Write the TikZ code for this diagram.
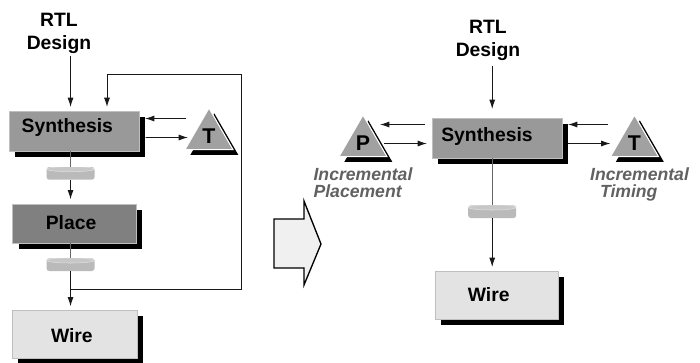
\documentclass[tikz,border=0pt]{standalone}
\usepackage{fontspec}
\setmainfont{Liberation Sans}
\usetikzlibrary{positioning,arrows.meta,calc,shapes.geometric,shadows}

\tikzset{
    every node/.style={outer sep=0pt, inner sep=0pt},
    procbox/.style={rectangle, draw=black!25, line width=0.5pt, minimum width=97.5pt,
        drop shadow={shadow xshift=4.5pt, shadow yshift=-4.5pt, fill=black, opacity=1}},
    boxtext/.style={font=\fontsize{14.5}{17}\selectfont\bfseries, text=black},
    toolsym/.style={regular polygon, regular polygon sides=3, minimum size=41.5pt,
        fill=black!37, draw=white, line width=0.8pt,
        drop shadow={shadow xshift=4pt, shadow yshift=-4pt, fill=black, opacity=1},
        font=\fontsize{16}{17}\selectfont\bfseries},
    disk/.style={rectangle, rounded corners=2pt, fill=black!27, minimum width=36pt, minimum height=9.5pt,
        path picture={\draw[black!12, line width=0.4pt, fill=black!22]
            ([yshift=-1.6pt]path picture bounding box.north) ellipse (18pt and 1.9pt);}},
    inctext/.style={align=left, text=black!62, font=\fontsize{13.2}{12.75}\selectfont\bfseries\itshape},
    input/.style={align=center, font=\fontsize{14.5}{17.25}\selectfont\bfseries},
    flow/.style={-{Latex[length=7pt,width=4.5pt]}, draw=black!90, line width=0.7pt},
    trunk/.style={draw=black!60, line width=0.8pt},
}

\begin{document}
\begin{tikzpicture}[x=0.75pt,y=-0.75pt]
    \useasboundingbox (0,0) rectangle (700,362);

    % flow with separate tools
    \node (rtl1) [input] at (59,33) {RTL\\Design};
    \node (synth1) [procbox, fill=black!40, minimum height=30pt,
        label={[boxtext,xshift=-5pt,yshift=2.5pt]center:Synthesis}] at (74,131) {};
    \node (disk1) [disk, below=12pt of synth1, xshift=-2.6pt] {};
    \node (place1) [procbox, fill=black!50, minimum width=92.5pt, minimum height=29.25pt,
        label={[boxtext,xshift=-2.5pt,yshift=1.3pt]center:Place},
        below=18.5pt of disk1, xshift=2.9pt] {};
    \node (disk2) [disk, below=11.25pt of place1, xshift=-2.9pt] {};
    \node (wire1) [procbox, fill=black!11, minimum width=93.75pt, minimum height=36pt,
        label={[boxtext,xshift=-2pt,yshift=-0.7pt]center:Wire},
        below=29.5pt of disk2, xshift=3pt] {};
    \node (tri1) [toolsym] at (209,135.7) {T};
    \coordinate (tap1) at ($(disk2 |- wire1.north)+(0,-21)$);
    \coordinate (loop1) at (241,74);
    \coordinate (loop2) at (107,74);

    \draw[flow] ([yshift=-2pt]rtl1.south -| disk1) -- ($(disk1 |- synth1.north)+(0,-4)$);
    \draw[trunk] (disk1 |- synth1.south) -- (disk1.north);
    \draw[flow] (disk1.south) -- ($(disk1 |- place1.north)+(0,-5)$);
    \draw[trunk] (disk2 |- place1.south) -- (disk2.north);
    \draw[flow] (disk2.south) -- ($(disk2 |- wire1.north)+(0,-4)$);
    \draw[flow] (tap1) -| (loop1) -- (loop2) -- ($(loop2 |- synth1.north)+(0,-4)$);
    \draw[flow] ([shift={(-23,-17.2)}]tri1.center) -- ([shift={(6,-12.5)}]synth1.east);
    \draw[flow] ([shift={(6.5,6.5)}]synth1.east) -- ([shift={(-21,1.8)}]tri1.center);

    % flow with incremental tools
    \node (rtl2) [input] at (488,40.5) {RTL\\Design};
    \node (synth2) [procbox, fill=black!40, minimum height=30pt,
        label={[boxtext,xshift=-7.5pt,yshift=1pt]center:Synthesis}] at (497,138) {};
    \node (disk3) [disk, below=35.5pt of synth2, xshift=-3.6pt] {};
    \node (wire2) [procbox, fill=black!11, minimum width=92.25pt, minimum height=36pt,
        label={[boxtext,xshift=-6pt]center:Wire},
        below=39.75pt of disk3, xshift=3.4pt] {};
    \node (tri2) [toolsym] at (363,142.7) {P};
    \node (tri3) [toolsym] at (634.5,142.7) {T};
    \node (inc1) [inctext, below=8.5pt of tri2] {Incremental\\Placement};
    \node (inc2) [inctext, below=8.5pt of tri3, xshift=3.75pt] {Incremental\\\hspace*{7.5pt}Timing};

    \draw[flow] ([yshift=-4pt]rtl2.south -| disk3) -- ($(disk3 |- synth2.north)+(0,-9)$);
    \draw[trunk] (disk3 |- synth2.south) -- (disk3.north);
    \draw[flow] (disk3.south) -- ($(disk3 |- wire2.north)+(0,-4)$);
    \draw[flow] ([shift={(-7,-13.5)}]synth2.west) -- ([shift={(17,-18.2)}]tri2.center);
    \draw[flow] ([shift={(21,0.8)}]tri2.center) -- ([shift={(-5,5.5)}]synth2.west);
    \draw[flow] ([shift={(-26.5,-18.2)}]tri3.center) -- ([shift={(6,-13.5)}]synth2.east);
    \draw[flow] ([shift={(6,5.5)}]synth2.east) -- ([shift={(-24,0.8)}]tri3.center);

    \draw[black, line width=1pt, fill=black!6] (274,219) -- (304,219) -- (304,201) -- (321,244)
        -- (304,285) -- (304,268) -- (274,268) -- cycle;

\end{tikzpicture}
\end{document}
